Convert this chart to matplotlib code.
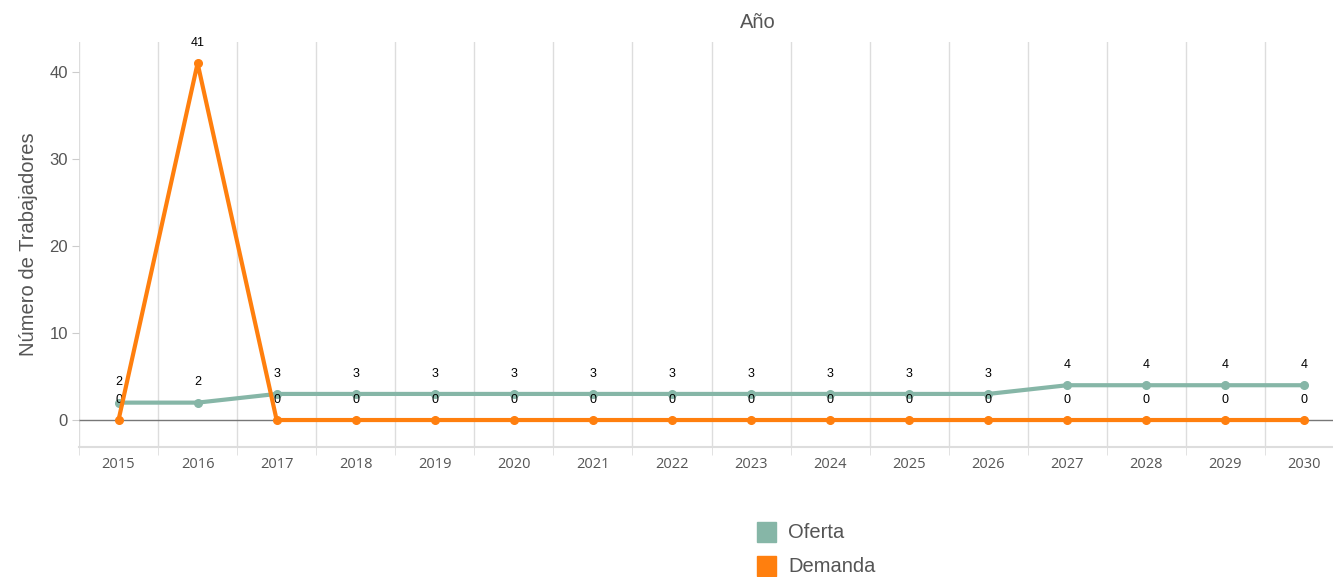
import matplotlib.pyplot as plt
import numpy as np

anios = [str(a) for a in range(2015, 2031)]
oferta = [2, 2, 3, 3, 3, 3, 3, 3, 3, 3, 3, 3, 4, 4, 4, 4]
demanda = [0, 41, 0, 0, 0, 0, 0, 0, 0, 0, 0, 0, 0, 0, 0, 0]

col_oferta = "#86b6a7"
col_demanda = "#ff7f0e"
fuente_cond = ["Liberation Sans", "DejaVu Sans"]

fig = plt.figure(figsize=(13.33, 5.77), dpi=100)
ax = fig.add_axes([79 / 1333, 130 / 577, 1265 / 1333, 405 / 577])

x = np.arange(len(anios))
ax.set_xlim(-0.5, len(anios) - 0.5)
ax.set_ylim(-3.1, 43.45)

# grille verticale entre les catégories
for b in np.arange(-0.5, len(anios), 1.0):
    ax.axvline(b, color="#dddddd", lw=1, zorder=0)
ax.axhline(0, color="#777777", lw=1, zorder=1)

ax.plot(x, oferta, color=col_oferta, lw=3, marker="o", ms=5.5, zorder=3,
        clip_on=False)
ax.plot(x, demanda, color=col_demanda, lw=3, marker="o", ms=5.5, zorder=4,
        clip_on=False)

for i in range(len(anios)):
    ax.annotate(str(oferta[i]), (x[i], oferta[i]), xytext=(0, 14.5),
                textcoords="offset points", ha="center", va="center",
                fontsize=9, color="black", family="Liberation Sans")
    ax.annotate(str(demanda[i]), (x[i], demanda[i]), xytext=(0, 14.5),
                textcoords="offset points", ha="center", va="center",
                fontsize=9, color="black", family="Liberation Sans")

for s in ["top", "right", "left"]:
    ax.spines[s].set_visible(False)
ax.spines["bottom"].set_color("#dddddd")
ax.spines["bottom"].set_linewidth(1.5)

ax.set_xticks(x)
ax.set_xticklabels(anios, fontsize=10.5, color="#555555",
                   family="Open Sans")
ax.set_xticks(np.arange(-0.5, len(anios), 1.0), minor=True)
ax.tick_params(axis="x", which="major", length=0, pad=7)
ax.tick_params(axis="x", which="minor", length=6, color="#dddddd")

ax.set_yticks([0, 10, 20, 30, 40])
ax.set_yticklabels(["0", "10", "20", "30", "40"], fontsize=12,
                   color="#555555", family="Liberation Sans")
ax.tick_params(axis="y", length=5, color="#cccccc", pad=3)

ax.set_ylabel("Número de Trabajadores", fontsize=14.5, color="#555555",
              family=fuente_cond, labelpad=8)
fig.text(758 / 1333, 1 - 22 / 577, "Año", ha="center", va="center",
         fontsize=14.5, color="#555555", family=fuente_cond)

# légende en bas
for j, (nom, c) in enumerate([("Oferta", col_oferta), ("Demanda", col_demanda)]):
    yy = 1 - (532 + 34 * j) / 577
    fig.patches.append(plt.Rectangle((757 / 1333, yy - 10 / 577), 19 / 1333,
                                     20 / 577, transform=fig.transFigure,
                                     color=c, figure=fig))
    fig.text(788 / 1333, yy, nom, ha="left", va="center", fontsize=14.5,
             color="#555555", family=fuente_cond)

fig.savefig("out.png", dpi=100)
